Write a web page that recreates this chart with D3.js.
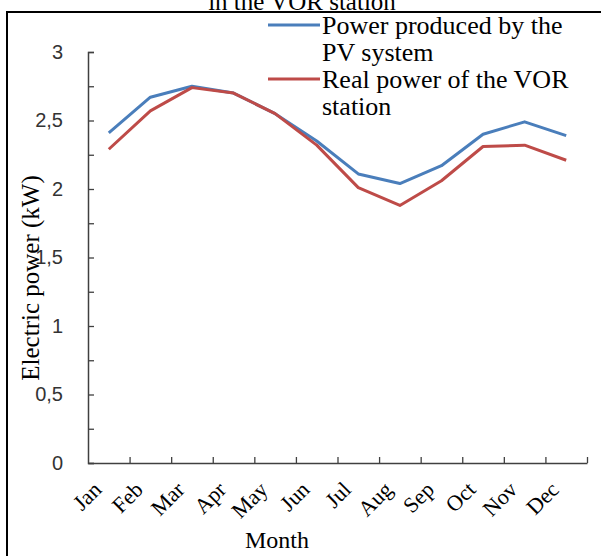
<!DOCTYPE html>
<html>
<head>
<meta charset="utf-8">
<script src="https://cdn.jsdelivr.net/npm/d3@7"></script>
<style>
  body { margin: 0; background: #fff; }
  .serif { font-family: "Liberation Serif", "Times New Roman", serif; }
</style>
</head>
<body>
<div id="chart"></div>
<script>
// data
var months = ["Jan", "Feb", "Mar", "Apr", "May", "Jun", "Jul", "Aug", "Sep", "Oct", "Nov", "Dec"];
var pvPower   = [2.41, 2.67, 2.75, 2.70, 2.55, 2.35, 2.11, 2.04, 2.17, 2.40, 2.49, 2.39];
var realPower = [2.29, 2.57, 2.74, 2.70, 2.55, 2.32, 2.01, 1.88, 2.06, 2.31, 2.32, 2.21];
var seriesNames = [["Power produced by the", "PV system"], ["Real power of the VOR", "station"]];
var yTicks = [0, 0.25, 0.5, 0.75, 1, 1.25, 1.5, 1.75, 2, 2.25, 2.5, 2.75, 3];

var W = 601, H = 556;
var plotLeft = 88, plotRight = 587, plotTop = 52, plotBottom = 463;
var colors = ["#4a7ebb", "#be4b48"];
var axisColor = "#404040";

var svg = d3.select("#chart").append("svg")
  .attr("width", W)
  .attr("height", H);

// frame around the figure (cut by the picture edges)
svg.append("rect")
  .attr("x", 7).attr("y", 12)
  .attr("width", W + 20).attr("height", H + 20)
  .attr("fill", "none")
  .attr("stroke", "#000")
  .attr("stroke-width", 2);

// title, cut at the top
svg.append("text")
  .attr("class", "serif")
  .attr("x", 302).attr("y", 10)
  .attr("text-anchor", "middle")
  .attr("font-size", 25)
  .text("in the VOR station");

var x = d3.scaleBand().domain(months).range([plotLeft, plotRight]).padding(0);
var xb = d3.scaleLinear().domain([0, months.length]).range([plotLeft, plotRight]);
var y = d3.scaleLinear().domain([0, 3]).range([plotBottom, plotTop]);

// y axis
var yAxis = svg.append("g")
  .attr("transform", "translate(" + plotLeft + ",0)")
  .call(d3.axisLeft(y)
    .tickValues(yTicks)
    .tickSize(-6)
    .tickPadding(25)
    .tickFormat(function(d) { return (d * 2) % 1 === 0 ? String(d).replace(".", ",") : ""; }));
yAxis.select(".domain").attr("stroke", axisColor).attr("stroke-width", 1.5);
yAxis.selectAll(".tick line").attr("stroke", axisColor).attr("stroke-width", 1.3);
yAxis.selectAll(".tick text")
  .attr("font-family", "Liberation Sans, Arial, sans-serif")
  .attr("font-size", 20)
  .attr("fill", "#333");

// x axis, ticks on category boundaries
var xAxis = svg.append("g")
  .attr("transform", "translate(0," + plotBottom + ")")
  .call(d3.axisBottom(xb)
    .tickValues(d3.range(1, months.length + 1))
    .tickSize(-6)
    .tickSizeOuter(0)
    .tickFormat(""));
xAxis.select(".domain").attr("stroke", axisColor).attr("stroke-width", 1.5);
xAxis.selectAll(".tick line").attr("stroke", axisColor).attr("stroke-width", 1.3);

// rotated month labels
svg.append("g").selectAll("text")
  .data(months)
  .enter().append("text")
    .attr("class", "serif")
    .attr("font-size", 22)
    .attr("text-anchor", "end")
    .attr("transform", function(d) {
      return "translate(" + (x(d) + x.bandwidth() / 2 - 6) + "," + (plotBottom + 28) + ") rotate(-45)";
    })
    .text(function(d) { return d; });

// axis titles
svg.append("text")
  .attr("class", "serif")
  .attr("x", 277).attr("y", 548)
  .attr("text-anchor", "middle")
  .attr("font-size", 24)
  .text("Month");

svg.append("text")
  .attr("class", "serif")
  .attr("transform", "translate(39,278) rotate(-90)")
  .attr("text-anchor", "middle")
  .attr("font-size", 25)
  .text("Electric power (kW)");

// lines
var line = d3.line()
  .x(function(d, i) { return x(months[i]) + x.bandwidth() / 2; })
  .y(function(d) { return y(d); });

[pvPower, realPower].forEach(function(s, i) {
  svg.append("path")
    .datum(s)
    .attr("fill", "none")
    .attr("stroke", colors[i])
    .attr("stroke-width", 3)
    .attr("stroke-linejoin", "round")
    .attr("d", line);
});

// legend
var legend = svg.append("g").selectAll("g")
  .data(seriesNames)
  .enter().append("g")
    .attr("transform", function(d, i) { return "translate(268," + (25 + i * 54) + ")"; });

legend.append("line")
  .attr("x1", 0).attr("x2", 52)
  .attr("stroke", function(d, i) { return colors[i]; })
  .attr("stroke-width", 3);

legend.append("text")
  .attr("class", "serif")
  .attr("font-size", 26)
  .selectAll("tspan")
  .data(function(d) { return d; })
  .enter().append("tspan")
    .attr("x", 54)
    .attr("y", function(d, j) { return 9 + j * 27; })
    .text(function(d) { return d; });
</script>
</body>
</html>
